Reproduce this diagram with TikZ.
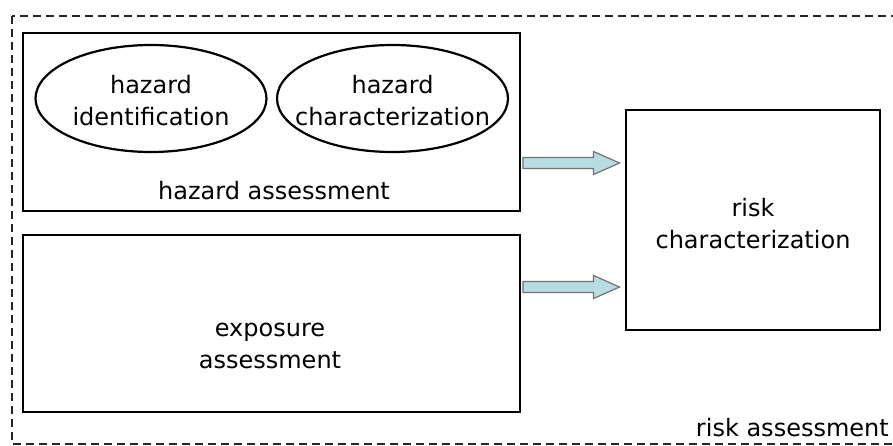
\documentclass[tikz,border=0pt]{standalone}
\usepackage{fontspec}
\setmainfont{DejaVu Sans}
\usetikzlibrary{shapes.geometric,calc}
\definecolor{arrfill}{HTML}{B7DDE3}
\tikzset{
  box/.style={draw=black, line width=2.9pt, inner sep=0pt, fill=white},
  oval/.style={draw=black, line width=2.2pt, ellipse, inner sep=0pt},
  lbl/.style={align=center, inner sep=0pt, font=\fontsize{24}{32}\selectfont},
  frame/.style={draw=black!85, line width=2.4pt, dash pattern=on 8pt off 5pt},
  blockarr/.style={draw=black!55, line width=1.2pt, fill=arrfill}
}
% block arrow between two named points at the height of the first one
\newcommand\blockarrow[2]{%
  \draw[blockarr] let \p1=(#1), \p2=(#2) in
    (\x1,\y1+5.5pt) -- (\x2-26pt,\y1+5.5pt) -- (\x2-26pt,\y1+11.5pt) --
    (\x2,\y1) -- (\x2-26pt,\y1-11.5pt) -- (\x2-26pt,\y1-5.5pt) --
    (\x1,\y1-5.5pt) -- cycle;}
\begin{document}
\begin{tikzpicture}[x=1pt,y=-1pt]
  \useasboundingbox (0,0) rectangle (893,446);
  \clip (0,0) rectangle (893,446);

  % outer dashed frame: risk assessment
  \draw[frame] (12,16) rectangle (905,444);
  \node[lbl, anchor=east] (ra) at (889,428) {risk assessment};

  % hazard assessment
  \node[box, minimum width=497pt, minimum height=178pt] (haz) at (271.5,122) {};
  \node[oval, minimum width=231pt, minimum height=107pt] (hid) at (151,98.5) {};
  \node[lbl] at ($(hid.center)+(0,2)$) {hazard\\identification};
  \node[oval, minimum width=231pt, minimum height=107pt] (hch) at (392.5,98.5) {};
  \node[lbl] at ($(hch.center)+(0,2)$) {hazard\\characterization};
  \node[lbl] (hazl) at (274,191) {hazard assessment};

  % exposure assessment
  \node[box, minimum width=497pt, minimum height=177pt] (exp) at (271.5,323.5) {};
  \node[lbl] (expl) at (270,346) {exposure\\assessment};

  % risk characterization
  \node[box, minimum width=254pt, minimum height=220pt] (risk) at (753,220) {};
  \node[lbl] (riskl) at (753,224) {risk\\characterization};

  % flows into risk characterization
  \coordinate (a1s) at ($(haz.east |- 0,163)+(1.5,0)$);
  \coordinate (a1e) at ($(risk.west |- 0,163)+(-5,0)$);
  \coordinate (a2s) at ($(exp.east |- 0,287)+(1.5,0)$);
  \coordinate (a2e) at ($(risk.west |- 0,287)+(-5,0)$);
  \blockarrow{a1s}{a1e}
  \blockarrow{a2s}{a2e}
\end{tikzpicture}
\end{document}
